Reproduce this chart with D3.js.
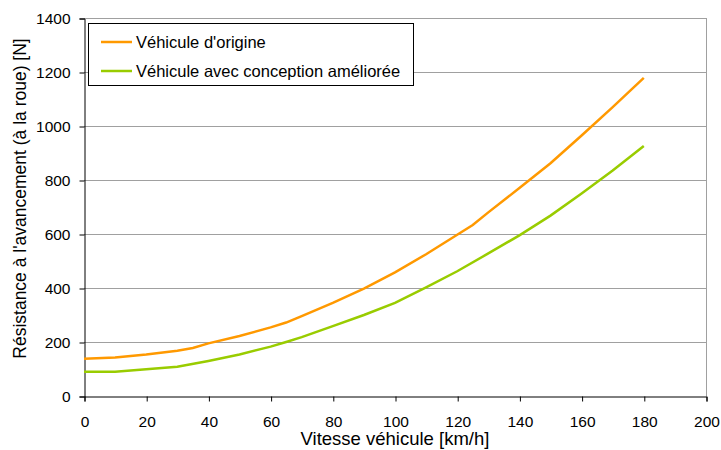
<!DOCTYPE html>
<html><head><meta charset="utf-8">
<script src="https://cdn.jsdelivr.net/npm/d3@7"></script>
<style>
body{margin:0;background:#fff;}
text{font-family:"Liberation Sans",Arial,sans-serif;fill:#000;}
</style></head>
<body><svg id="c" width="721" height="450"></svg>
<script>
const speedsOrig = [0,10,20,30,35,40,50,60,65,70,80,90,100,110,120,125,130,140,150,160,170,180];
const valuesOrig = [138,143,154,168,178,195,222,254,272,296,345,398,458,525,597,633,680,770,862,965,1070,1178];
const speedsImp = [0,10,20,30,40,50,60,65,70,80,90,100,110,120,130,140,150,160,170,180];
const valuesImp = [90,90,99,108,130,154,183,200,218,259,300,345,402,462,528,595,668,750,835,926];
const seriesNames = ["Véhicule d'origine","Véhicule avec conception améliorée"];
const seriesColors = ["#FF9900","#99CC00"];
const xTicks = [0,20,40,60,80,100,120,140,160,180,200];
const yTicks = [0,200,400,600,800,1000,1200,1400];
const xTitle = "Vitesse véhicule [km/h]";
const yTitle = "Résistance à l'avancement (à la roue) [N]";

const svg = d3.select("#c");
const L=84, R=706, T=18, B=396;
const x = d3.scaleLinear().domain([0,200]).range([L,R]);
const y = d3.scaleLinear().domain([0,1400]).range([B,T]);

// gridlines
svg.append("g").selectAll("line").data(yTicks.filter(d=>d>0)).join("line")
  .attr("x1",L).attr("x2",R).attr("y1",d=>y(d)+0.5).attr("y2",d=>y(d)+0.5)
  .attr("stroke","#a0a0a0").attr("stroke-width",1);
// right border
svg.append("line").attr("x1",R+0.5).attr("x2",R+0.5).attr("y1",T).attr("y2",B)
  .attr("stroke","#a0a0a0");

// axes
const yAxis = d3.axisLeft(y).tickValues(yTicks).tickSize(5).tickPadding(9).tickFormat(d3.format("d"));
const gy = svg.append("g").attr("transform",`translate(${L+0.5},0.5)`).call(yAxis);
const xAxis = d3.axisBottom(x).tickValues(xTicks).tickSize(5).tickPadding(14).tickFormat(d3.format("d"));
const gx = svg.append("g").attr("transform",`translate(0.5,${B+0.5})`).call(xAxis);
[gx,gy].forEach(g=>{
  g.select(".domain").attr("stroke","#000");
  g.selectAll(".tick line").attr("stroke","#000");
  g.selectAll(".tick text").attr("font-size","15.5px").attr("font-family","Liberation Sans, Arial, sans-serif").attr("fill","#000");
});

// lines
const line = d3.line().x(d=>x(d[0])).y(d=>y(d[1]));
const data = [d3.zip(speedsOrig,valuesOrig), d3.zip(speedsImp,valuesImp)];
data.forEach((d,i)=>{
  svg.append("path").datum(d).attr("d",line).attr("fill","none")
    .attr("stroke",seriesColors[i]).attr("stroke-width",2.5);
});

// legend
svg.append("rect").attr("x",88.5).attr("y",23.5).attr("width",325).attr("height",62)
  .attr("fill","#fff").attr("stroke","#000").attr("stroke-width",1);
seriesNames.forEach((n,i)=>{
  const yy = 42 + i*29;
  svg.append("line").attr("x1",101).attr("x2",132).attr("y1",yy).attr("y2",yy)
    .attr("stroke",seriesColors[i]).attr("stroke-width",2.5);
  svg.append("text").attr("x",136).attr("y",yy+5.5).attr("font-size","16.5px").text(n);
});

// titles
svg.append("text").attr("x",395).attr("y",445).attr("text-anchor","middle")
  .attr("font-size","18.5px").text(xTitle);
svg.append("text").attr("transform",`translate(26,${(14+383)/2}) rotate(-90)`)
  .attr("text-anchor","middle").attr("font-size","17.5px").text(yTitle);
</script></body></html>
